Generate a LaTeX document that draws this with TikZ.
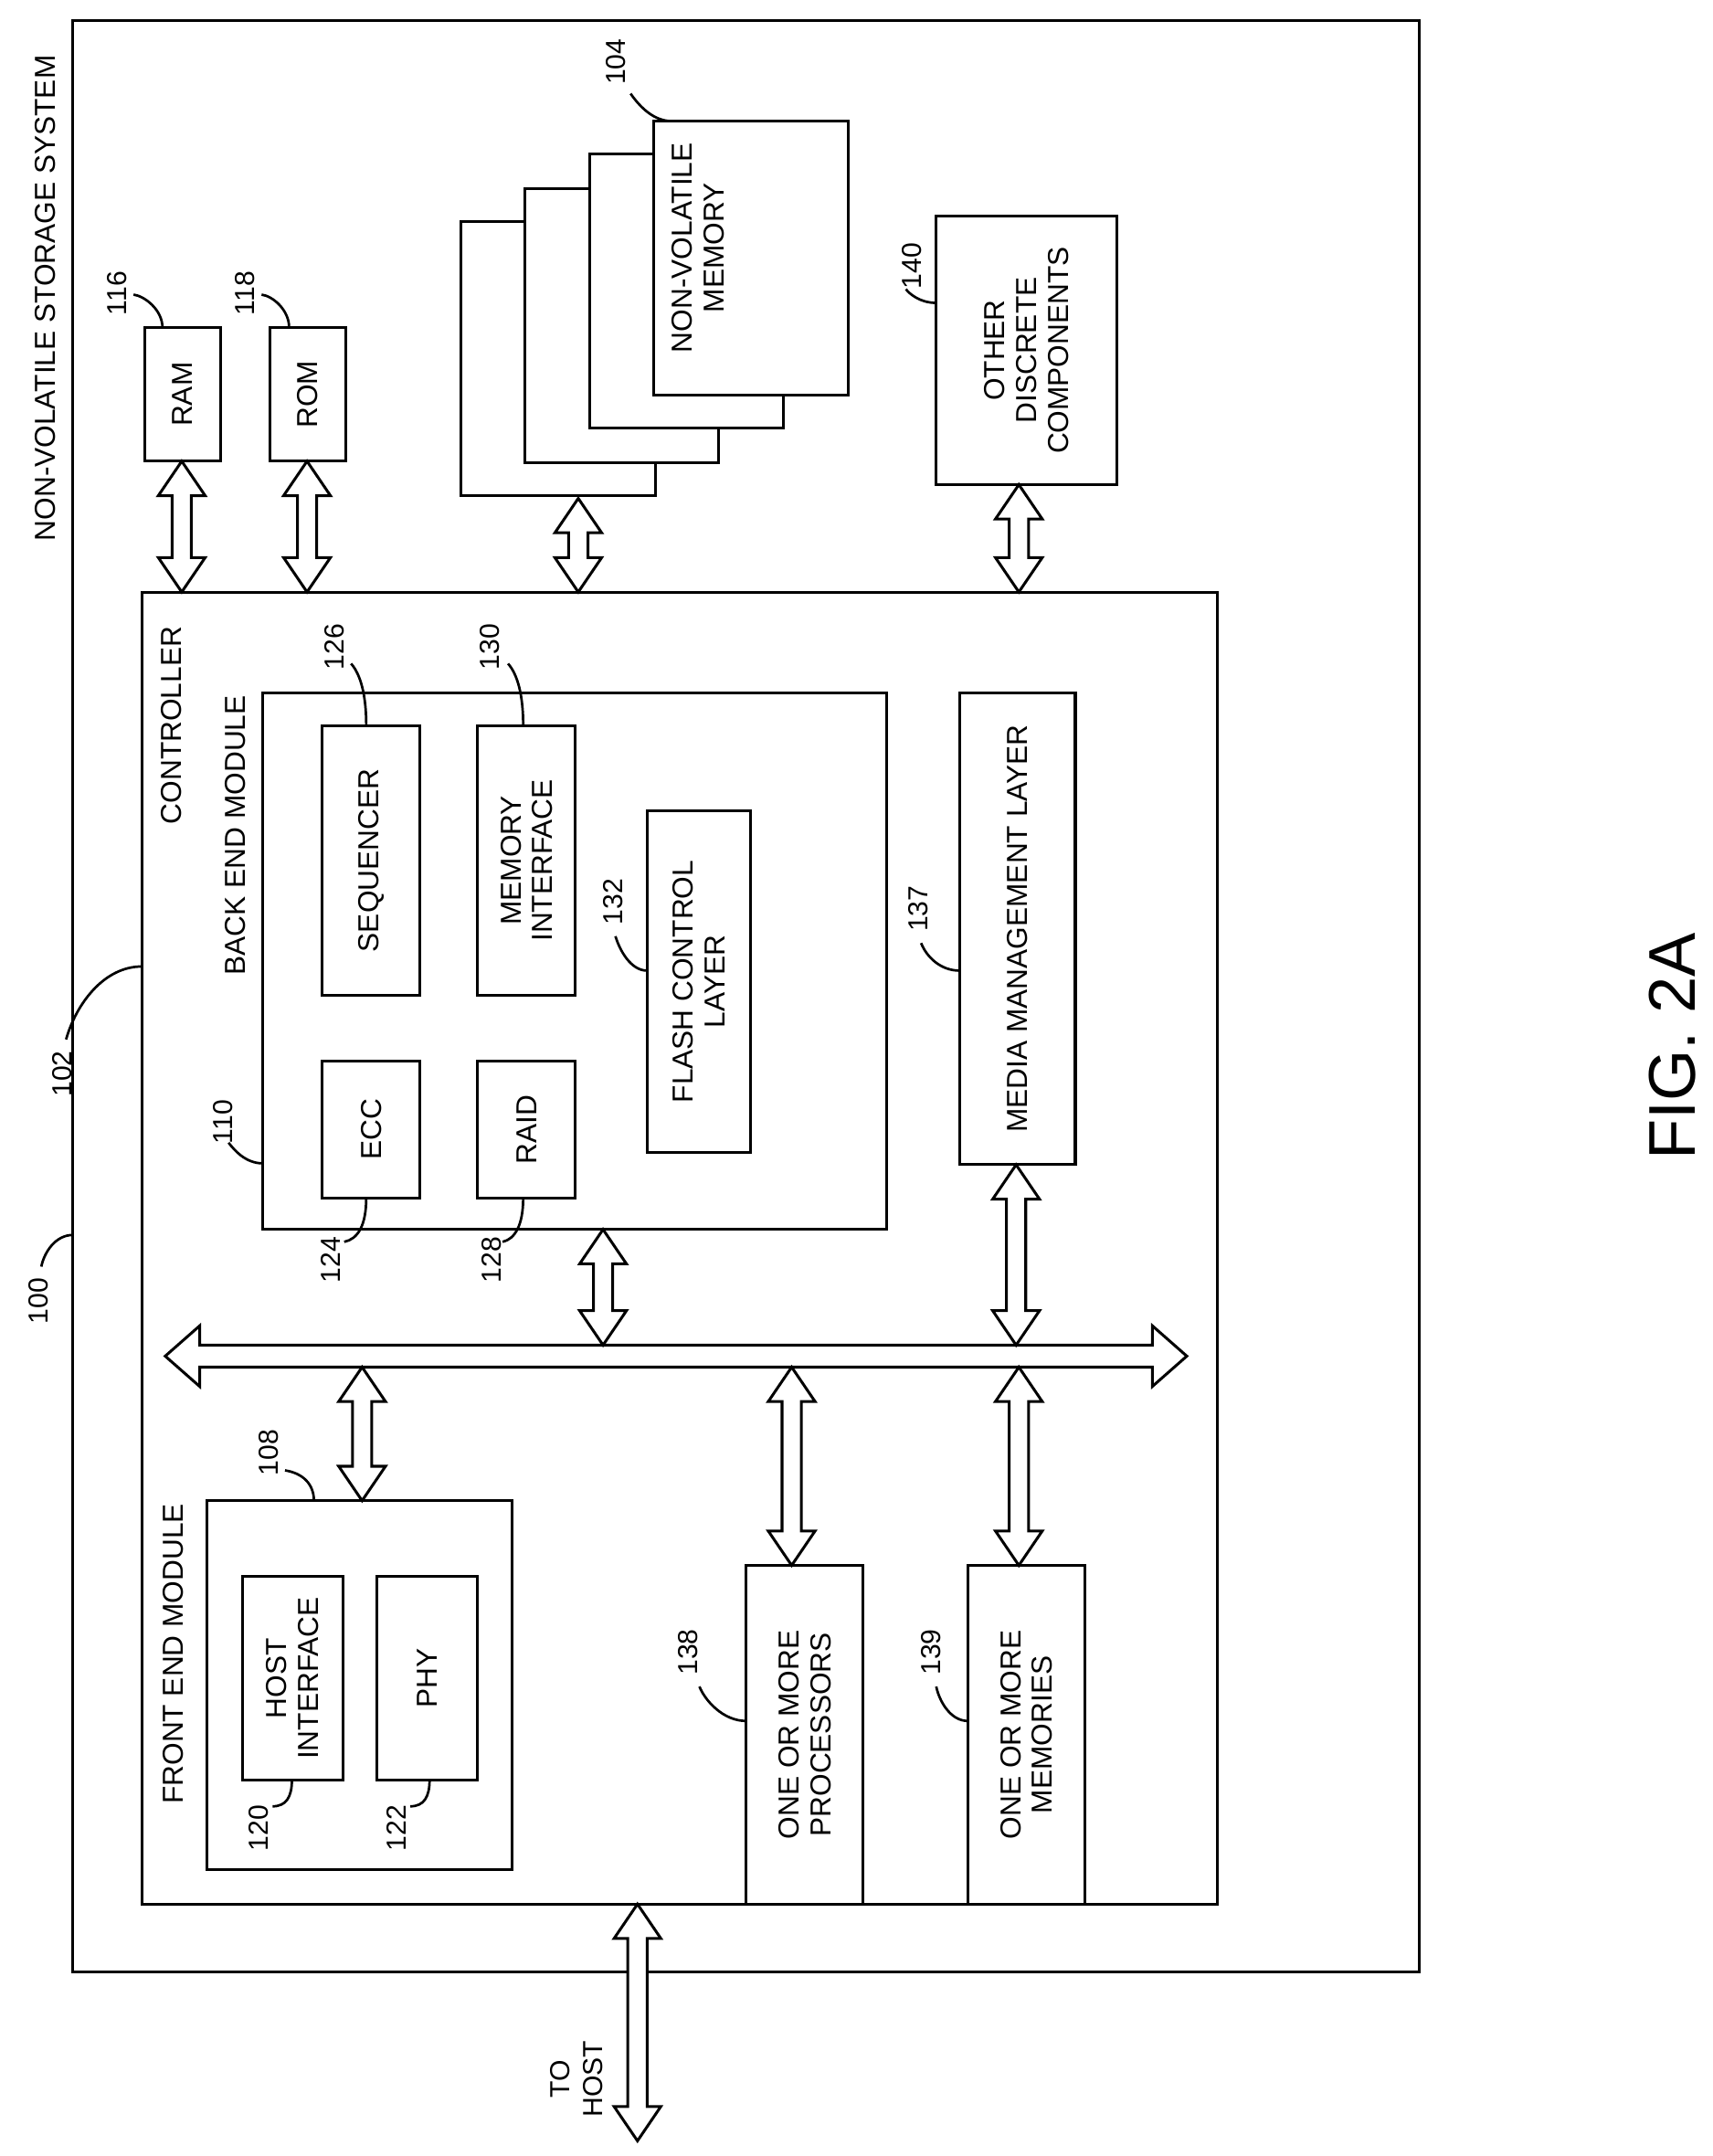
\documentclass[tikz,border=0pt]{standalone}
\usepackage{fontspec}
\setmainfont{Liberation Sans}
\usetikzlibrary{positioning}
\tikzset{
  box/.style={draw, line width=2pt},
  txt/.style={rotate=90, font=\fontsize{21}{23}\selectfont, align=center, inner sep=0pt},
  num/.style={rotate=90, font=\fontsize{20}{22}\selectfont, inner sep=1pt},
  lead/.style={line width=1.8pt},
  arr/.style={line width=2pt, fill=white, line join=miter}
}
% hollow vertical double arrow: x, top y, bottom y
\newcommand\vdarrow[3]{%
  \draw[arr] ({#1-7},{#2+25}) -- ({#1-17},{#2+25}) -- (#1,#2) -- ({#1+17},{#2+25}) -- ({#1+7},{#2+25})
    -- ({#1+7},{#3-25}) -- ({#1+17},{#3-25}) -- (#1,#3) -- ({#1-17},{#3-25}) -- ({#1-7},{#3-25}) -- cycle;}
\begin{document}
\begin{tikzpicture}[x=1pt, y=-1pt]
  \useasboundingbox (0,0) rectangle (1244,1566);

  % System and controller
  \draw[box] (53,15) rectangle (1031,1432);
  \node[txt, anchor=north east] (sys) at (25,40) {NON-VOLATILE STORAGE SYSTEM};
  \draw[box] (103,430) rectangle (884,1383);
  \node[txt, anchor=north east] (ctrl) at (117,455) {CONTROLLER};

  % Back end module
  \draw[box] (191,503) rectangle (644,893);
  \node[txt, anchor=north east] (bem) at (163,505) {BACK END MODULE};
  \draw[box] (234,527) rectangle (305,723);
  \node[txt] (seq) at (269.5,625) {SEQUENCER};
  \draw[box] (347,527) rectangle (418,723);
  \node[txt] (memif) at (382.5,625) {MEMORY\\INTERFACE};
  \draw[box] (470,589) rectangle (545,837);
  \node[txt] (fcl) at (507.5,713) {FLASH CONTROL\\LAYER};
  \draw[box] (234,771) rectangle (305,870);
  \node[txt] (ecc) at (269.5,820.5) {ECC};
  \draw[box] (347,771) rectangle (418,870);
  \node[txt] (raid) at (382.5,820.5) {RAID};

  % Media management layer
  \draw[box] (697,503) rectangle (781,846);
  \node[txt] (mml) at (739,674.5) {MEDIA MANAGEMENT LAYER};

  % Front end module
  \draw[box] (150,1090) rectangle (372,1358);
  \node[txt, anchor=north east] (fem) at (118,1092) {FRONT END MODULE};
  \draw[box] (176,1145) rectangle (249,1293);
  \node[txt] (hostif) at (212.5,1219) {HOST\\INTERFACE};
  \draw[box] (274,1145) rectangle (347,1293);
  \node[txt] (phy) at (310.5,1219) {PHY};

  % Processors and memories
  \draw[box] (542,1137) rectangle (627,1383);
  \node[txt] (proc) at (584.5,1260) {ONE OR MORE\\PROCESSORS};
  \draw[box] (703,1137) rectangle (788,1383);
  \node[txt] (mems) at (745.5,1260) {ONE OR MORE\\MEMORIES};

  % Outside the controller
  \draw[box] (105,238) rectangle (160,335);
  \node[txt] (ram) at (132.5,286.5) {RAM};
  \draw[box] (196,238) rectangle (251,335);
  \node[txt] (rom) at (223.5,286.5) {ROM};
  \foreach \dx/\dy in {-140/73,-94/49,-47/24}
    \draw[box, fill=white] ({475+\dx},{88+\dy}) rectangle ({616+\dx},{287+\dy});
  \draw[box, fill=white] (475,88) rectangle (616,287);
  \node[txt] (nvm) at (507,180) {NON-VOLATILE\\MEMORY};
  \draw[box] (680,157) rectangle (811,352);
  \node[txt] (other) at (745.5,254.5) {OTHER\\DISCRETE\\COMPONENTS};

  % Bus and arrows
  \draw[arr] (145,977) -- (145,963) -- (120,985) -- (145,1007) -- (145,993) -- (837,993)
    -- (837,1007) -- (862,985) -- (837,963) -- (837,977) -- cycle;
  \vdarrow{132}{335}{430}
  \vdarrow{223}{335}{430}
  \vdarrow{420}{362}{430}
  \vdarrow{740}{352}{430}
  \vdarrow{438}{893}{977}
  \vdarrow{738}{846}{977}
  \vdarrow{263}{993}{1090}
  \vdarrow{575}{993}{1137}
  \vdarrow{740}{993}{1137}
  \vdarrow{463}{1383}{1555}
  \node[txt, anchor=south, font=\fontsize{20}{24}\selectfont] (host) at (438,1510) {TO\\HOST};

  % Reference numerals
  \node[num] (n100) at (28,945) {100};
  \draw[lead] (53,897) .. controls (40,897) and (32,910) .. (30,920);
  \node[num] (n102) at (45,780) {102};
  \draw[lead] (103,702) .. controls (75,702) and (55,730) .. (48,755);
  \node[num] (n104) at (447,45) {104};
  \draw[lead] (488,88) .. controls (475,88) and (465,78) .. (458,68);
  \node[num] (n116) at (85,213) {116};
  \draw[lead] (118,238) .. controls (118,225) and (105,215) .. (97,214);
  \node[num] (n118) at (178,213) {118};
  \draw[lead] (210,238) .. controls (210,225) and (198,215) .. (190,214);
  \node[num] (n140) at (662,193) {140};
  \draw[lead] (680,220) .. controls (668,220) and (660,213) .. (658,210);
  \node[num] (n126) at (243,470) {126};
  \draw[lead] (266,527) .. controls (266,505) and (262,490) .. (255,482);
  \node[num] (n130) at (356,470) {130};
  \draw[lead] (380,527) .. controls (380,505) and (376,490) .. (369,482);
  \node[num] (n132) at (445,655) {132};
  \draw[lead] (470,705) .. controls (458,705) and (450,690) .. (447,680);
  \node[num] (n137) at (667,660) {137};
  \draw[lead] (697,705) .. controls (683,705) and (673,695) .. (669,685);
  \node[num] (n110) at (162,815) {110};
  \draw[lead] (191,845) .. controls (178,845) and (170,835) .. (166,830);
  \node[num] (n124) at (240,915) {124};
  \draw[lead] (266,870) .. controls (266,890) and (260,900) .. (250,902);
  \node[num] (n128) at (357,915) {128};
  \draw[lead] (380,870) .. controls (380,890) and (374,900) .. (365,902);
  \node[num] (n108) at (195,1055) {108};
  \draw[lead] (228,1090) .. controls (228,1078) and (220,1070) .. (207,1068);
  \node[num] (n120) at (188,1328) {120};
  \draw[lead] (212,1293) .. controls (212,1305) and (208,1312) .. (198,1312);
  \node[num] (n122) at (288,1328) {122};
  \draw[lead] (312,1293) .. controls (312,1305) and (308,1312) .. (298,1312);
  \node[num] (n138) at (500,1200) {138};
  \draw[lead] (542,1250) .. controls (525,1250) and (512,1235) .. (508,1225);
  \node[num] (n139) at (676,1200) {139};
  \draw[lead] (703,1250) .. controls (690,1250) and (682,1235) .. (680,1225);

  \node[rotate=90, font=\fontsize{48}{50}\selectfont] (fig) at (1215,760) {FIG. 2A};
\end{tikzpicture}
\end{document}
